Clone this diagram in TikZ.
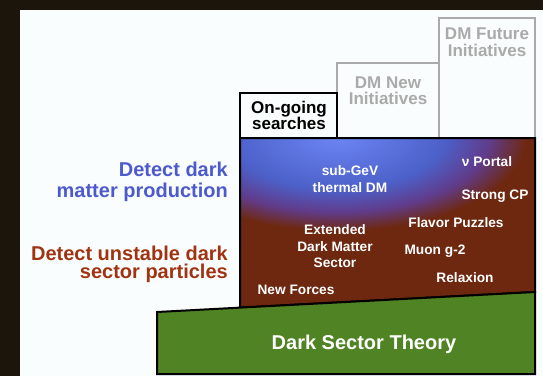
\documentclass[tikz,border=0pt]{standalone}
\usepackage{fontspec}
\setmainfont{Liberation Sans}
\definecolor{bgdark}{RGB}{28,21,11}
\definecolor{paper}{RGB}{250,253,253}
\definecolor{tiergray}{RGB}{170,170,170}
\definecolor{dmA}{RGB}{108,134,245}
\definecolor{dmB}{RGB}{76,96,200}
\definecolor{dmC}{RGB}{96,60,140}
\definecolor{dmD}{RGB}{110,40,15}
\definecolor{theorygreen}{RGB}{79,131,35}
\definecolor{prodblue}{RGB}{76,90,205}
\definecolor{unstred}{RGB}{160,52,18}
\pgfdeclareradialshading{dmshade}{\pgfpoint{0bp}{0bp}}{color(0bp)=(dmA); color(8.5bp)=(dmB); color(12bp)=(dmC); color(15bp)=(dmD); color(50bp)=(dmD)}
\tikzset{
  innertxt/.style={text=white, inner sep=0pt, anchor=base, font=\fontsize{13.7}{16}\selectfont\bfseries},
  tiertxt/.style={inner sep=0pt, anchor=base, font=\fontsize{17}{20}\selectfont\bfseries},
  sidetxt/.style={inner sep=0pt, anchor=base east, font=\fontsize{20}{24}\selectfont\bfseries},
  tierbox/.style={draw=tiergray, line width=2pt, fill=paper},
  outline/.style={draw=black, line width=2pt, line join=miter},
}
\begin{document}
\begin{tikzpicture}[x=1pt,y=-1pt]
\useasboundingbox (0,0) rectangle (543,376);
\fill[bgdark] (0,0) rectangle (543,376);
\fill[paper] (20,10) rectangle (543,376);
% tiers
\draw[tierbox] (439,18) rectangle (535,140);
\draw[tierbox] (337,63) rectangle (439,140);
\draw[outline, fill=paper] (240,93) rectangle (337,140);
\node[tiertxt, text=tiergray] (fut1) at (487,39) {DM Future};
\node[tiertxt, text=tiergray] (fut2) at (487,56) {Initiatives};
\node[tiertxt, text=tiergray] (new1) at (388,88) {DM New};
\node[tiertxt, text=tiergray] (new2) at (388,104) {Initiatives};
\node[tiertxt] (on1) at (289,113) {On-going};
\node[tiertxt] (on2) at (289,129) {searches};
% main shaded box
\begin{scope}
\clip (240,138) -- (535,138) -- (535,292) -- (240,307.6) -- cycle;
\fill[dmD] (230,130) rectangle (545,315);
\shade[shading=dmshade] (337,136) ellipse [x radius=317pt, y radius=158pt];
\end{scope}
\draw[outline] (240,138) -- (535,138) -- (535,292) -- (240,307.6) -- cycle;
% theory base
\draw[outline, fill=theorygreen] (157,312) -- (535,292) -- (535,374) -- (157,374) -- cycle;
\node[inner sep=0pt, anchor=base, text=white, font=\fontsize{20}{24}\selectfont\bfseries] (theory) at (364,349) {Dark Sector Theory};
% inner labels
\node[innertxt] (sub1) at (350,175) {sub-GeV};
\node[innertxt] (sub2) at (350,192) {thermal DM};
\node[innertxt] (nu) at (487,166) {ν Portal};
\node[innertxt] (scp) at (495,199) {Strong CP};
\node[innertxt] (flav) at (456,227) {Flavor Puzzles};
\node[innertxt] (ext1) at (335,234) {Extended};
\node[innertxt] (ext2) at (335,251) {Dark Matter};
\node[innertxt] (ext3) at (335,267) {Sector};
\node[innertxt] (muon) at (435,254) {Muon g-2};
\node[innertxt] (relax) at (465,282) {Relaxion};
\node[innertxt] (forces) at (296,294) {New Forces};
% side labels
\node[sidetxt, text=prodblue] (prod1) at (228,176) {Detect dark};
\node[sidetxt, text=prodblue] (prod2) at (228,197) {matter production};
\node[sidetxt, text=unstred] (uns1) at (228,260) {Detect unstable dark};
\node[sidetxt, text=unstred] (uns2) at (228,278) {sector particles};
\end{tikzpicture}
\end{document}
